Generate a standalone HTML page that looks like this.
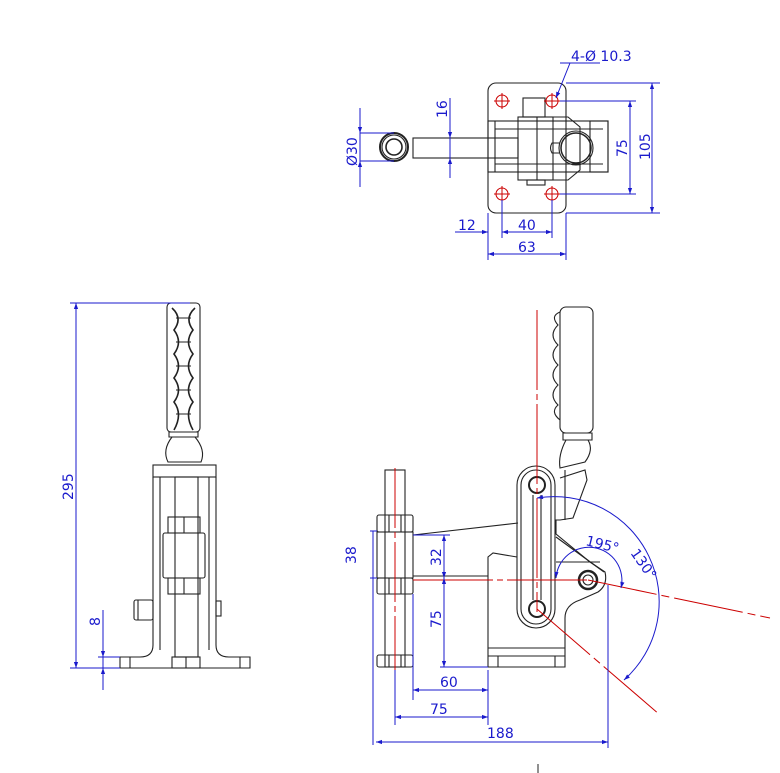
<!DOCTYPE html>
<html><head><style>body{margin:0;background:#fff}svg{display:block}text{font-family:"DejaVu Sans","Liberation Sans",sans-serif;fill:#1a1acc;font-size:14px}</style></head>
<body>
<svg width="780" height="773" viewBox="0 0 780 773" xmlns="http://www.w3.org/2000/svg">
<defs>
<marker id="a" viewBox="0 0 10 10" refX="10" refY="5" markerWidth="9" markerHeight="6" orient="auto-start-reverse" markerUnits="userSpaceOnUse"><path d="M0,1.5L10,5L0,8.5z" fill="#1a1acc"/></marker>
</defs>
<g fill="none" stroke="#222" stroke-width="1.1">
<!-- TOP VIEW -->
<rect x="488" y="83" width="78" height="130" rx="8"/>
<rect x="488" y="121" width="120" height="51"/>
<line x1="495" y1="129" x2="603" y2="129"/><line x1="495" y1="164" x2="603" y2="164"/>
<line x1="495" y1="121" x2="495" y2="172"/>
<rect x="413" y="138" width="105" height="20"/>
<circle cx="394" cy="147" r="14" stroke-width="2"/><circle cx="394" cy="147" r="12"/><circle cx="394" cy="147" r="8" stroke-width="1.6"/>
<rect x="523" y="98" width="22" height="19"/>
<rect x="518" y="117" width="35" height="63"/>
<line x1="537" y1="117" x2="537" y2="180"/>
<path d="M553,117 L568,117 L580,127 L580,170 L568,180 L553,180"/>
<rect x="527" y="180" width="18" height="5"/>
<circle cx="576" cy="148" r="15" stroke-width="1.5"/><circle cx="576" cy="148" r="17"/>
<path d="M560,143 L552,143 Q549,148 552,153 L560,153"/>
<rect x="590" y="121" width="18" height="51"/>
</g>
<g stroke="#c00" stroke-width="1" fill="none">
<circle cx="502" cy="101" r="6"/><circle cx="552" cy="101" r="6"/><circle cx="502" cy="194" r="6"/><circle cx="552" cy="194" r="6"/>
<path d="M494,101h16M502,93v16M544,101h16M552,93v16M494,194h16M502,186v16M544,194h16M552,186v16"/>
</g>
<g stroke="#1a1acc" stroke-width="1" fill="none">
<path d="M560,63 L600,63 M570,63 L556,98" marker-end="url(#a)"/>
<line x1="566" y1="83" x2="660" y2="83"/><line x1="566" y1="213" x2="660" y2="213"/>
<line x1="652" y1="83" x2="652" y2="213" marker-start="url(#a)" marker-end="url(#a)"/>
<line x1="560" y1="101" x2="636" y2="101"/><line x1="560" y1="194" x2="636" y2="194"/>
<line x1="630" y1="101" x2="630" y2="194" marker-start="url(#a)" marker-end="url(#a)"/>
<line x1="450" y1="98" x2="450" y2="178"/>
<line x1="450" y1="108" x2="450" y2="138" marker-end="url(#a)"/><line x1="450" y1="175" x2="450" y2="158" marker-end="url(#a)"/>
<line x1="360" y1="133" x2="394" y2="133"/><line x1="360" y1="161" x2="394" y2="161"/>
<line x1="360" y1="108" x2="360" y2="187"/>
<line x1="360" y1="110" x2="360" y2="133" marker-end="url(#a)"/><line x1="360" y1="185" x2="360" y2="161" marker-end="url(#a)"/>
<line x1="488" y1="213" x2="488" y2="260"/><line x1="566" y1="213" x2="566" y2="260"/>
<line x1="502" y1="200" x2="502" y2="238"/><line x1="552" y1="200" x2="552" y2="238"/>
<line x1="455" y1="232" x2="488" y2="232" marker-end="url(#a)"/>
<line x1="502" y1="232" x2="552" y2="232" marker-start="url(#a)" marker-end="url(#a)"/>
<line x1="488" y1="254" x2="566" y2="254" marker-start="url(#a)" marker-end="url(#a)"/>
</g>
<text x="571" y="61">4-Ø 10.3</text>
<text x="0" y="0" transform="translate(627,157) rotate(-90)">75</text>
<text x="0" y="0" transform="translate(650,160) rotate(-90)">105</text>
<text x="0" y="0" transform="translate(447,118) rotate(-90)">16</text>
<text x="0" y="0" transform="translate(357,166) rotate(-90)">Ø30</text>
<text x="458" y="230">12</text><text x="518" y="230">40</text><text x="518" y="252">63</text>

<!-- FRONT VIEW -->
<g fill="none" stroke="#222" stroke-width="1.1">
<rect x="167" y="303" width="33" height="129" rx="4"/>
<path d="M172,308 Q183,318 174,330 Q183,342 174,354 Q183,366 174,378 Q183,390 174,402 Q183,414 174,430" stroke-width="1.6"/>
<path d="M195,308 Q184,318 193,330 Q184,342 193,354 Q184,366 193,378 Q184,390 193,402 Q184,414 193,430" stroke-width="1.6"/>
<path d="M176,318h15M176,342h15M176,366h15M176,390h15M176,414h15"/>
<path d="M169,432 L198,432 L198,437 L169,437z"/>
<path d="M172,437 Q162,450 168,462 L201,462 Q206,450 195,437"/>
<rect x="153" y="465" width="63" height="12"/>
<path d="M153,477 V645 Q153,657 140,657 H120 V668 H250 V657 H229 Q216,657 216,645 V477"/>
<line x1="160" y1="477" x2="160" y2="650"/><line x1="209" y1="477" x2="209" y2="650"/>
<rect x="175" y="477" width="23" height="180"/>
<rect x="168" y="517" width="32" height="16"/><line x1="184" y1="517" x2="184" y2="533"/>
<rect x="163" y="533" width="42" height="45" rx="2"/>
<rect x="168" y="578" width="32" height="16"/><line x1="184" y1="578" x2="184" y2="594"/>
<rect x="172" y="657" width="28" height="11"/><line x1="186" y1="657" x2="186" y2="668"/>
<rect x="134" y="600" width="19" height="20" rx="2"/><line x1="138" y1="600" x2="138" y2="620"/>
<rect x="216" y="601" width="5" height="15"/>
<line x1="130" y1="657" x2="130" y2="668"/><line x1="240" y1="657" x2="240" y2="668"/>
</g>
<g stroke="#1a1acc" stroke-width="1" fill="none">
<line x1="70" y1="303" x2="190" y2="303"/><line x1="70" y1="668" x2="120" y2="668"/>
<line x1="76" y1="303" x2="76" y2="668" marker-start="url(#a)" marker-end="url(#a)"/>
<line x1="98" y1="657" x2="120" y2="657"/>
<line x1="103" y1="610" x2="103" y2="690"/>
<line x1="103" y1="638" x2="103" y2="657" marker-end="url(#a)"/><line x1="103" y1="688" x2="103" y2="668" marker-end="url(#a)"/>
</g>
<text x="0" y="0" transform="translate(73,500) rotate(-90)">295</text>
<text x="0" y="0" transform="translate(100,626) rotate(-90)">8</text>

<!-- SIDE VIEW -->
<g fill="none" stroke="#222" stroke-width="1.1">
<rect x="385" y="470" width="20" height="197"/>
<rect x="377" y="515" width="36" height="17" rx="2"/><line x1="389" y1="515" x2="389" y2="532"/><line x1="401" y1="515" x2="401" y2="532"/>
<rect x="377" y="532" width="36" height="46"/>
<rect x="377" y="578" width="36" height="16" rx="2"/><line x1="389" y1="578" x2="389" y2="594"/><line x1="401" y1="578" x2="401" y2="594"/>
<rect x="377" y="655" width="36" height="12" rx="2"/><line x1="389" y1="655" x2="389" y2="667"/><line x1="401" y1="655" x2="401" y2="667"/>
<line x1="413" y1="535" x2="518" y2="523"/>
<line x1="413" y1="576" x2="488" y2="576"/>
<path d="M488,667 V557 L493,553 L517,557"/>
<path d="M488,667 H565 V618 Q565,605 580,600 L598,592 Q608,585 605,572 L590,562 L556,534 V520 L560,520 L573,518 L587,480 L585,470 L560,478"/>
<line x1="488" y1="648" x2="565" y2="648"/><line x1="488" y1="656" x2="565" y2="656"/>
<line x1="498" y1="656" x2="498" y2="667"/><line x1="555" y1="656" x2="555" y2="667"/>
<line x1="556" y1="562" x2="600" y2="562"/>
<line x1="556" y1="537" x2="604" y2="572"/>
<line x1="565" y1="470" x2="565" y2="520"/>
<path d="M517,485 A19,19 0 0 1 555,485 V609 A19,19 0 0 1 517,609 Z"/>
<path d="M521,485 A15,15 0 0 1 551,485 V609 A15,15 0 0 1 521,609 Z"/>
<line x1="533" y1="495" x2="533" y2="600"/><line x1="541" y1="495" x2="541" y2="600"/>
<circle cx="537" cy="485" r="8" stroke-width="2"/>
<circle cx="537" cy="609" r="8" stroke-width="2"/>
<circle cx="588" cy="580" r="9" stroke-width="2.5"/><circle cx="588" cy="580" r="5"/>
<rect x="560" y="307" width="33" height="126" rx="6"/>
<path d="M560,312 Q550,316 558,325 Q548,335 558,345 Q548,355 558,365 Q548,375 558,385 Q548,395 558,405 Q550,412 560,420"/>
<path d="M563,433 H592 V440 H563Z"/>
<path d="M566,440 Q558,455 560,468 L585,462 Q594,450 588,440"/>
</g>
<g stroke="#c00" stroke-width="1" fill="none">
<line x1="395" y1="468" x2="395" y2="677" stroke-dasharray="60,4,6,4"/>
<line x1="537" y1="310" x2="537" y2="612" stroke-dasharray="80,4,6,4"/>
<line x1="413" y1="580" x2="588" y2="580" stroke-dasharray="80,4,6,4"/>
<line x1="588" y1="580" x2="770" y2="618" stroke-dasharray="70,5,8,5"/>
<line x1="537" y1="609" x2="660" y2="715" stroke-dasharray="70,5,8,5"/>
</g>
<g stroke="#1a1acc" stroke-width="1" fill="none">
<path d="M537,498 A105,105 0 0 1 624,680" marker-start="url(#a)" marker-end="url(#a)"/>
<path d="M556,578 A33,33 0 1 1 621,588" marker-start="url(#a)" marker-end="url(#a)"/>
<line x1="370" y1="531" x2="377" y2="531"/><line x1="370" y1="578" x2="377" y2="578"/>
<line x1="373" y1="531" x2="373" y2="745"/>
<line x1="413" y1="535" x2="450" y2="535"/><line x1="440" y1="667" x2="488" y2="667"/>
<line x1="444" y1="535" x2="444" y2="578" marker-start="url(#a)" marker-end="url(#a)"/>
<line x1="444" y1="578" x2="444" y2="667" marker-start="url(#a)" marker-end="url(#a)"/>
<line x1="413" y1="594" x2="413" y2="700"/><line x1="395" y1="670" x2="395" y2="725"/>
<line x1="488" y1="670" x2="488" y2="725"/><line x1="608" y1="585" x2="608" y2="748"/>
<line x1="413" y1="690" x2="488" y2="690" marker-start="url(#a)" marker-end="url(#a)"/>
<line x1="395" y1="717" x2="488" y2="717" marker-start="url(#a)" marker-end="url(#a)"/>
<line x1="376" y1="742" x2="608" y2="742" marker-start="url(#a)" marker-end="url(#a)"/>
</g>
<text x="0" y="0" transform="translate(356,564) rotate(-90)">38</text>
<text x="0" y="0" transform="translate(441,566) rotate(-90)">32</text>
<text x="0" y="0" transform="translate(441,628) rotate(-90)">75</text>
<text x="440" y="687">60</text><text x="430" y="714">75</text><text x="487" y="738">188</text>
<text x="0" y="0" transform="translate(585,545) rotate(14)">195°</text>
<text x="0" y="0" transform="translate(630,553) rotate(55)">130°</text>
<line x1="538" y1="764" x2="538" y2="773" stroke="#222"/>
</svg>
</body></html>
